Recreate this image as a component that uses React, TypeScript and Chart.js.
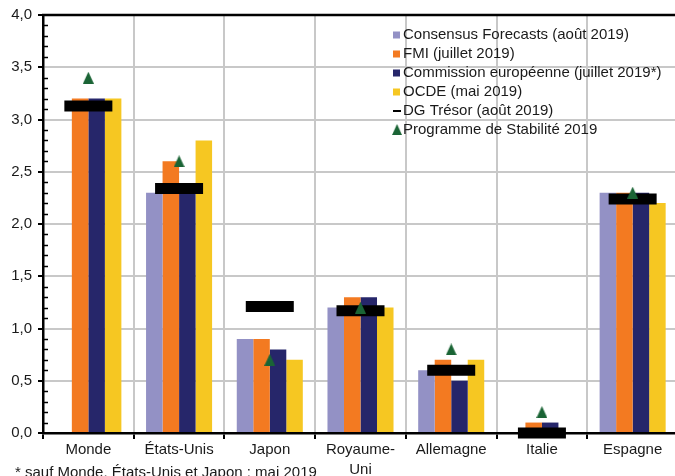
import React, { useEffect, useRef } from "react";
import { Chart, registerables } from "chart.js";

Chart.register(...registerables);

// Croissance du PIB 2019 : prévisions par institution (%)
const categories: (string | string[])[] = [
  "Monde",
  "États-Unis",
  "Japon",
  ["Royaume-", "Uni"],
  "Allemagne",
  "Italie",
  "Espagne",
];

const consensus: (number | null)[] = [null, 2.3, 0.9, 1.2, 0.6, 0.0, 2.3];
const fmi: number[] = [3.2, 2.6, 0.9, 1.3, 0.7, 0.1, 2.3];
const commission: number[] = [3.2, 2.3, 0.8, 1.3, 0.5, 0.1, 2.3];
const ocde: number[] = [3.2, 2.8, 0.7, 1.2, 0.7, 0.0, 2.2];
const dgTresor: number[] = [3.13, 2.34, 1.21, 1.17, 0.6, 0.0, 2.24];
const programmeStabilite: number[] = [3.4, 2.6, 0.7, 1.2, 0.8, 0.2, 2.3];

const yTicks = { min: 0, max: 4, step: 0.5, minorStep: 0.1 };

const seriesLabels = [
  "Consensus Forecasts (août 2019)",
  "FMI (juillet 2019)",
  "Commission européenne (juillet 2019*)",
  "OCDE (mai 2019)",
  "DG Trésor (août 2019)",
  "Programme de Stabilité 2019",
];

const footnote = "* sauf Monde, États-Unis et Japon : mai 2019";

const COLORS = {
  consensus: "#9391c5",
  fmi: "#f37a21",
  commission: "#26266a",
  ocde: "#f6c722",
  tresor: "#000000",
  stabilite: "#1a6435",
  grid: "#c8c8c8",
  text: "#1a1a1a",
};

const FONT = "'Liberation Sans', Arial, sans-serif";

const W = 681;
const H = 476;

function makeTriangle(w: number, h: number, color: string): HTMLCanvasElement {
  const c = document.createElement("canvas");
  c.width = w;
  c.height = h;
  const g = c.getContext("2d")!;
  g.fillStyle = color;
  g.beginPath();
  g.moveTo(w / 2, 0);
  g.lineTo(w, h);
  g.lineTo(0, h);
  g.closePath();
  g.fill();
  return c;
}

function noScalePadding(scale: any) {
  scale.paddingTop = 0;
  scale.paddingBottom = 0;
  scale.paddingLeft = 0;
  scale.paddingRight = 0;
}

export default function App() {
  const canvasRef = useRef<HTMLCanvasElement | null>(null);

  useEffect(() => {
    const canvas = canvasRef.current;
    if (!canvas) return;
    const triangle = makeTriangle(11, 12, COLORS.stabilite);

    // minor ticks inside the y axis, top border, legend and footnote
    const decorations = {
      id: "decorations",
      afterDatasetsDraw(chart: any) {
        const { ctx, chartArea, scales } = chart;
        const y = scales.y;
        ctx.save();
        ctx.strokeStyle = "#000";
        ctx.lineWidth = 2.5;
        ctx.beginPath();
        ctx.moveTo(chartArea.left - 1, chartArea.top);
        ctx.lineTo(chartArea.right, chartArea.top);
        ctx.stroke();
        ctx.lineWidth = 1.5;
        const n = Math.round((yTicks.max - yTicks.min) / yTicks.minorStep);
        for (let i = 1; i < n; i++) {
          if (i % 5 === 0) continue;
          const py = Math.round(y.getPixelForValue(yTicks.min + i * yTicks.minorStep)) + 0.5;
          ctx.beginPath();
          ctx.moveTo(chartArea.left, py);
          ctx.lineTo(chartArea.left + 5, py);
          ctx.stroke();
        }
        ctx.restore();
      },
      afterDraw(chart: any) {
        const { ctx, chartArea } = chart;
        ctx.save();
        ctx.font = `15px ${FONT}`;
        ctx.textBaseline = "middle";
        ctx.fillStyle = COLORS.text;
        const lx = chartArea.left + 350;
        const ly0 = chartArea.top + 20;
        const step = 19;
        const boxColors = [COLORS.consensus, COLORS.fmi, COLORS.commission, COLORS.ocde];
        seriesLabels.forEach((label, i) => {
          const cy = ly0 + i * step;
          if (i < 4) {
            ctx.fillStyle = boxColors[i];
            ctx.fillRect(lx, cy - 3.5, 7, 7);
          } else if (i === 4) {
            ctx.fillStyle = "#000";
            ctx.fillRect(lx, cy - 1, 8, 2);
          } else {
            ctx.drawImage(triangle, lx - 1, cy - 6, 10, 11);
          }
          ctx.fillStyle = COLORS.text;
          ctx.fillText(label, lx + 10, cy);
        });
        ctx.textBaseline = "alphabetic";
        ctx.fillText(footnote, 15, 477);
        ctx.restore();
      },
    };

    const chart = new Chart(canvas, {
      type: "bar",
      data: {
        labels: categories,
        datasets: [
          {
            type: "line",
            label: seriesLabels[5],
            data: programmeStabilite,
            showLine: false,
            pointStyle: triangle,
            pointRadius: 6,
            pointBackgroundColor: COLORS.stabilite,
            pointBorderColor: COLORS.stabilite,
            clip: false,
            order: 0,
          } as any,
          {
            type: "line",
            label: seriesLabels[4],
            data: dgTresor,
            showLine: false,
            pointStyle: "line",
            pointRadius: 24,
            pointBorderWidth: 11,
            pointBorderColor: COLORS.tresor,
            pointBackgroundColor: COLORS.tresor,
            clip: false,
            order: 1,
          } as any,
          {
            label: seriesLabels[0],
            data: consensus,
            backgroundColor: COLORS.consensus,
            order: 2,
          },
          {
            label: seriesLabels[1],
            data: fmi,
            backgroundColor: COLORS.fmi,
            order: 2,
          },
          {
            label: seriesLabels[2],
            data: commission,
            backgroundColor: COLORS.commission,
            order: 2,
          },
          {
            label: seriesLabels[3],
            data: ocde,
            backgroundColor: COLORS.ocde,
            order: 2,
          },
        ],
      },
      options: {
        responsive: false,
        animation: false,
        events: [],
        layout: {
          autoPadding: false,
          padding: { left: 0, top: 15, right: W - 678, bottom: 0 },
        },
        datasets: {
          bar: {
            categoryPercentage: 0.728,
            barPercentage: 1.0,
            borderWidth: 0,
            grouped: true,
          },
        },
        plugins: {
          legend: { display: false },
          tooltip: { enabled: false },
          title: { display: false },
        },
        scales: {
          x: {
            stacked: false,
            offset: true,
            grid: {
              offset: true,
              color: COLORS.grid,
              lineWidth: 2,
              tickLength: 6,
              tickColor: "#000",
              tickWidth: 2,
              drawOnChartArea: true,
            },
            border: { display: true, color: "#000", width: 2.5 },
            ticks: {
              color: COLORS.text,
              font: { family: FONT, size: 15, lineHeight: 1.33 },
              padding: 1,
              maxRotation: 0,
              autoSkip: false,
            },
            afterFit(scale: any) {
              scale.height = H - 433;
              noScalePadding(scale);
            },
          },
          y: {
            min: yTicks.min,
            max: yTicks.max,
            grid: {
              color: COLORS.grid,
              lineWidth: 2,
              tickLength: 5,
              tickColor: "#000",
              tickWidth: 2,
            },
            border: { display: true, color: "#000", width: 2.5 },
            ticks: {
              stepSize: yTicks.step,
              color: COLORS.text,
              font: { family: FONT, size: 15 },
              padding: 6,
              callback: (v: any) => Number(v).toFixed(1).replace(".", ","),
            },
            afterFit(scale: any) {
              scale.width = 43;
              noScalePadding(scale);
            },
          },
        },
      },
      plugins: [decorations],
    });

    return () => chart.destroy();
  }, []);

  return (
    <div
      style={{
        position: "fixed",
        left: 0,
        top: 0,
        width: 675,
        height: H,
        overflow: "hidden",
        background: "#fff",
      }}
    >
      <canvas ref={canvasRef} width={W} height={H} style={{ display: "block" }} />
    </div>
  );
}
